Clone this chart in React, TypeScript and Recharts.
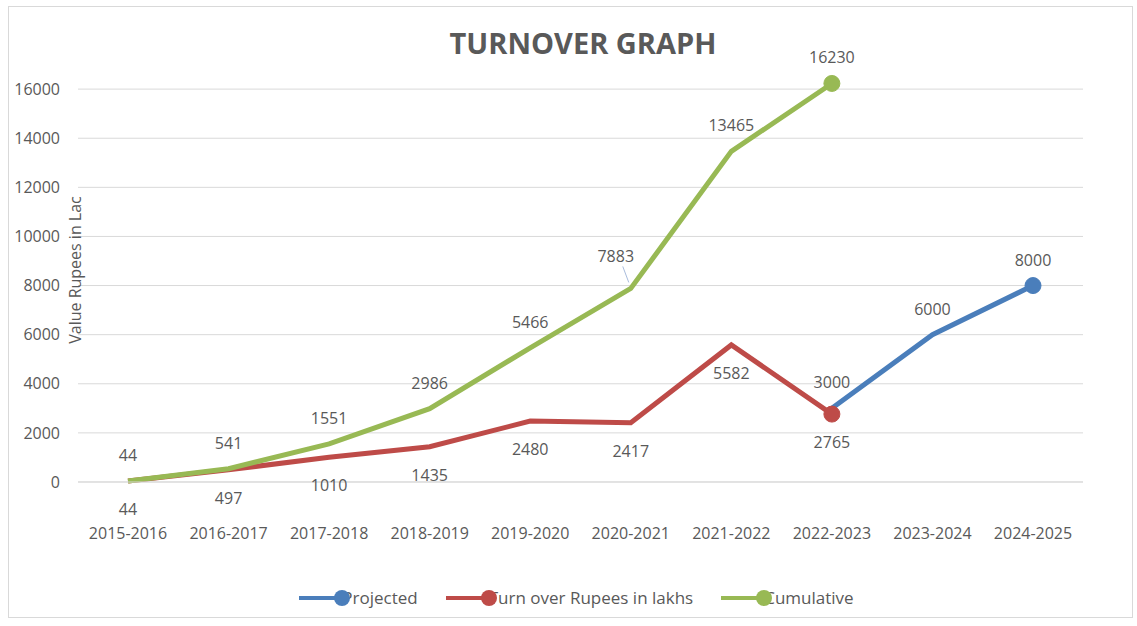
import React from 'react';
import { LineChart, Line, XAxis, YAxis, CartesianGrid, Legend, LabelList } from 'recharts';

const categories = ['2015-2016', '2016-2017', '2017-2018', '2018-2019', '2019-2020', '2020-2021', '2021-2022', '2022-2023', '2023-2024', '2024-2025'];
const projected: (number | null)[] = [null, null, null, null, null, null, null, 3000, 6000, 8000];
const turnover: (number | null)[] = [44, 497, 1010, 1435, 2480, 2417, 5582, 2765, null, null];
const cumulative: (number | null)[] = [44, 541, 1551, 2986, 5466, 7883, 13465, 16230, null, null];
const yTicks = [0, 2000, 4000, 6000, 8000, 10000, 12000, 14000, 16000];
const seriesKeys = ['projected', 'turnover', 'cumulative'];
const seriesNames = ['Projected', 'Turn over Rupees in lakhs', 'Cumulative'];
const seriesColors = ['#4A7EBB', '#BE4B48', '#98B954'];
const titleText = 'TURNOVER GRAPH';
const yLabelText = 'Value Rupees in Lac';

const data = categories.map((c, i) => ({
  category: c,
  projected: projected[i],
  turnover: turnover[i],
  cumulative: cumulative[i],
}));

const lastIndex = (arr: (number | null)[]) => {
  let li = -1;
  arr.forEach((v, i) => { if (v != null) li = i; });
  return li;
};

const FONT = '"Open Sans", "Noto Sans", sans-serif';
const TEXT = '#595959';

const makeDot = (arr: (number | null)[], color: string) => (props: any) => {
  const { cx, cy, index } = props;
  if (index !== lastIndex(arr) || cx == null || cy == null) return <g key={`d-${index}`} />;
  return <circle key={`d-${index}`} cx={cx} cy={cy} r={8} fill={color} stroke={color} strokeWidth={1} />;
};

const makeLabel = (pos: 'top' | 'bottom', shiftIndex?: number) => (props: any) => {
  const { x, y, value, index } = props;
  if (value == null || x == null || y == null) return null;
  if (pos === 'top') {
    if (index === shiftIndex) {
      return (
        <g key={`l-${index}`}>
          <line x1={x - 8} y1={y - 22} x2={x - 2} y2={y - 6} stroke="#A9BCDC" strokeWidth={1} />
          <text x={x - 15} y={y - 26} textAnchor="middle" fill={TEXT} fontSize={16} fontFamily={FONT}>{value}</text>
        </g>
      );
    }
    return (
      <text key={`l-${index}`} x={x} y={y - 20} textAnchor="middle" fill={TEXT} fontSize={16} fontFamily={FONT}>{value}</text>
    );
  }
  return (
    <text key={`l-${index}`} x={x} y={y + 34} textAnchor="middle" fill={TEXT} fontSize={16} fontFamily={FONT}>{value}</text>
  );
};

const LegendContent = () => (
  <div style={{ display: 'flex', justifyContent: 'center', alignItems: 'center', height: 24, fontFamily: FONT, fontSize: 17, color: TEXT }}>
    {seriesNames.map((n, i) => (
      <div key={n} style={{ display: 'flex', alignItems: 'center', marginRight: i < seriesNames.length - 1 ? 28 : 0 }}>
        <svg width={52} height={20} style={{ display: 'block', position: 'relative', zIndex: 1 }}>
          <line x1={0} y1={10} x2={43} y2={10} stroke={seriesColors[i]} strokeWidth={4} />
          <circle cx={43} cy={10} r={8} fill={seriesColors[i]} />
        </svg>
        <span style={{ marginLeft: -9, whiteSpace: 'nowrap', lineHeight: '24px' }}>{n}</span>
      </div>
    ))}
  </div>
);

const YLabel = () => (
  <text x={81} y={270} transform="rotate(-90 81 270)" textAnchor="middle" fill={TEXT} fontSize={16} fontFamily={FONT}>
    {yLabelText}
  </text>
);

const seriesArrays = [projected, turnover, cumulative];
const labelPos: ('top' | 'bottom')[] = ['top', 'bottom', 'top'];

export default function App() {
  return (
    <div style={{ position: 'absolute', left: 0, top: 0, width: 1137, height: 626, background: '#fff' }}>
      <div style={{ position: 'absolute', left: 8, top: 6, width: 1125, height: 612, border: '1px solid #D9D9D9', boxSizing: 'border-box' }} />
      <div style={{ position: 'absolute', left: 283, top: 23, width: 600, textAlign: 'center', fontFamily: FONT, fontWeight: 700, fontSize: 29, lineHeight: '40px', color: TEXT }}>
        {titleText}
      </div>
      <div style={{ position: 'absolute', left: 0, top: 0 }}>
        <LineChart width={1137} height={626} data={data} margin={{ top: 40, right: 54, bottom: 16, left: 0 }}>
          <CartesianGrid horizontal vertical={false} horizontalValues={yTicks} stroke="#D9D9D9" strokeWidth={1} />
          <XAxis
            dataKey="category"
            padding={{ left: 50, right: 50 }}
            height={104}
            tickLine={false}
            axisLine={{ stroke: '#D9D9D9' }}
            tickMargin={40}
            tick={{ fill: TEXT, fontSize: 16, fontFamily: FONT }}
            interval={0}
          />
          <YAxis
            width={78}
            domain={[0, 18000]}
            ticks={yTicks}
            tickLine={false}
            axisLine={false}
            tickMargin={12}
            tick={{ fill: TEXT, fontSize: 16, fontFamily: FONT }}
            label={{ content: () => <YLabel /> }}
          />
          <Legend
            verticalAlign="bottom"
            wrapperStyle={{ left: 8, width: 1137 }}
            content={() => <LegendContent />}
          />
          {seriesKeys.map((k, i) => (
            <Line
              key={k}
              type="linear"
              dataKey={k}
              name={seriesNames[i]}
              stroke={seriesColors[i]}
              strokeWidth={5}
              dot={makeDot(seriesArrays[i], seriesColors[i])}
              activeDot={false}
              isAnimationActive={false}
              connectNulls={false}
            >
              <LabelList dataKey={k} content={makeLabel(labelPos[i], k === 'cumulative' ? 5 : undefined)} />
            </Line>
          ))}
        </LineChart>
      </div>
    </div>
  );
}
